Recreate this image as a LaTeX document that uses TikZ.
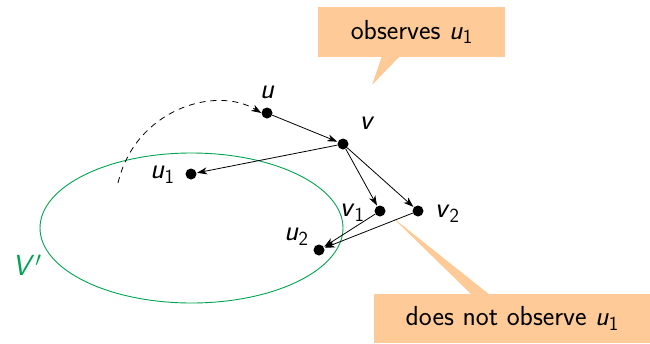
\documentclass[tikz,border=0pt]{standalone}
\usepackage{fontspec}
\usetikzlibrary{arrows.meta}
\definecolor{callout}{RGB}{253,202,152}
\definecolor{setgreen}{RGB}{0,163,80}
\newcommand{\vsub}[2]{\textit{#1}\raisebox{-0.4ex}{\fontsize{20}{20}\selectfont #2}}
\begin{document}
\begin{tikzpicture}[x=1pt,y=-1pt,
  dot/.style={circle,fill=black,inner sep=0pt,minimum size=11pt},
  lbl/.style={inner sep=0pt,font=\fontsize{29}{32}\selectfont\sffamily},
  edge/.style={line width=0.8pt,-{Stealth[length=10pt,width=7pt,inset=3pt]},shorten >=0.5pt},
  box/.style={fill=callout,inner sep=0pt,font=\fontsize{27.5}{30}\selectfont\sffamily}]
\useasboundingbox (0,0) rectangle (650,343);
% set ellipse
\draw[setgreen,line width=0.9pt] (191.5,228) ellipse [x radius=151.5, y radius=75];
\node[lbl,text=setgreen] (Vp) at (27,265) {\textit{V}\kern1pt$^{\prime}$};
% callouts
\node[box,minimum width=187pt,minimum height=50pt] (c1) at (411.5,32) {observes \vsub{u}{1}};
\fill[callout] (382,56) -- (400,56) -- (372,85) -- cycle;
\fill[callout] (392,217) -- (472,295) -- (490,295) -- cycle;
\node[box,minimum width=276pt,minimum height=49pt] (c2) at (512,318.5) {does not observe \vsub{u}{1}};
% nodes
\node[dot] (u) at (267,113) {};
\node[dot] (v) at (343,144) {};
\node[dot] (u1) at (191,174) {};
\node[dot] (v1) at (380,211) {};
\node[dot] (v2) at (418,211) {};
\node[dot] (u2) at (319,250) {};
\node[lbl] (lu) at (267,92) {\textit{u}};
\node[lbl] (lv) at (367,123) {\textit{v}};
\node[lbl] (lu1) at (162,175) {\vsub{u}{1}};
\node[lbl] (lv1) at (352,213) {\vsub{v}{1}};
\node[lbl] (lv2) at (447,214) {\vsub{v}{2}};
\node[lbl] (lu2) at (296,237) {\vsub{u}{2}};
% edges
\draw[edge] (u) -- (v);
\draw[edge] (v) -- (u1);
\draw[edge] (v) -- (v1);
\draw[edge] (v) -- (v2);
\draw[edge] (v1) -- (u2);
\draw[edge] (v2) -- (u2);
\coordinate (ds) at (118,183);
\draw[line width=0.8pt,dashed,dash pattern=on 6pt off 5pt,-{Stealth[length=10pt,width=7pt,inset=3pt]}] (ds) .. controls (135,110) and (215,85) .. (u.west);
\end{tikzpicture}
\end{document}
